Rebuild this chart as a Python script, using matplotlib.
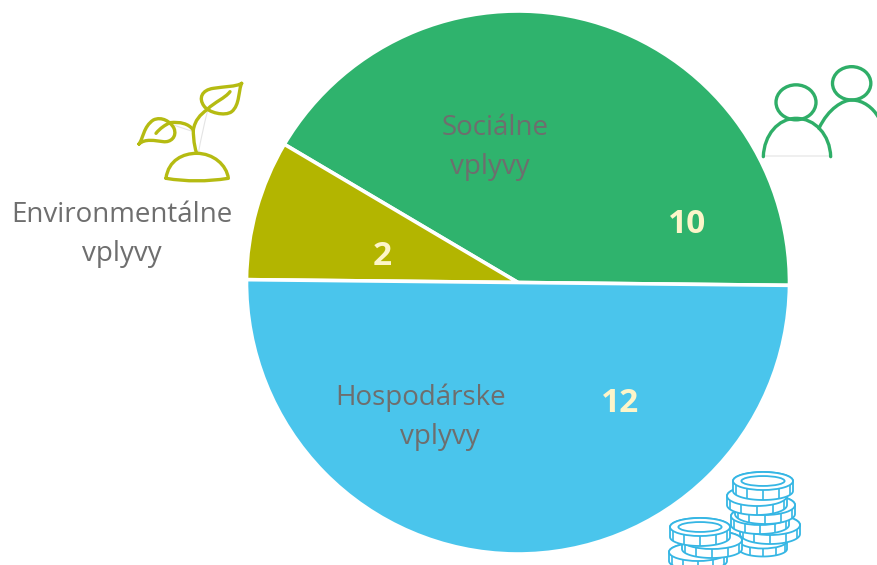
import numpy as np
import matplotlib
matplotlib.use("Agg")
import matplotlib.pyplot as plt
from matplotlib.patches import Ellipse, PathPatch
from matplotlib.path import Path

categories = ["Sociálne vplyvy", "Environmentálne vplyvy", "Hospodárske vplyvy"]
values = [10, 2, 12]
colors = ["#2fb36d", "#b3b500", "#4ac5ec"]

W, H = 878, 565
TEXT = "#6e6e6e"
NUM = "#fdf5c9"
PLANT = "#b5bb12"
PEOPLE = "#2fae68"
COIN = "#35b6e4"

plt.rcParams["font.family"] = ["Open Sans", "DejaVu Sans"]

fig = plt.figure(figsize=(W / 100, H / 100), dpi=100)
ax = fig.add_axes([0, 0, 1, 1])

ax.pie(values, colors=colors, startangle=-0.6, center=(518, H - 282.5), radius=271.5,
       frame=False, wedgeprops=dict(edgecolor="white", linewidth=2.6))
ax.set_xlim(0, W)
ax.set_ylim(0, H)
ax.set_aspect("equal")
ax.axis("off")


def curve(pts, ox, oy, color, lw=2.4):
    # pts: first point, then groups of 3 bezier points, in zoomed crop coords
    verts = [(ox + x / 3, H - (oy + y / 3)) for x, y in pts]
    codes = [Path.MOVETO] + [Path.CURVE4] * (len(verts) - 1)
    ax.add_patch(PathPatch(Path(verts, codes), fill=False, edgecolor=color, lw=lw,
                           capstyle="round", joinstyle="round", zorder=5))


# rastlinka
px, py = 130, 70
curve([(130, 165), (150, 172), (170, 178), (190, 185)], px, py, "#e4e4e4", 0.8)
curve([(232, 125), (222, 165), (212, 210), (205, 250)], px, py, "#e4e4e4", 0.8)
curve([(108, 325), (115, 270), (160, 250), (200, 250), (250, 250), (290, 285), (295, 325),
       (230, 335), (170, 335), (108, 325)], px, py, PLANT)
curve([(200, 250), (190, 220), (190, 190), (190, 180), (195, 150), (210, 135), (232, 118)], px, py, PLANT)
curve([(190, 180), (175, 160), (150, 155), (120, 158)], px, py, PLANT)
curve([(335, 40), (320, 50), (280, 50), (250, 55), (215, 60), (205, 85), (222, 108),
       (235, 128), (285, 140), (305, 125), (330, 105), (325, 60), (335, 40)], px, py, PLANT)
curve([(232, 118), (255, 95), (285, 85), (300, 65)], px, py, PLANT)
curve([(27, 222), (40, 205), (40, 170), (70, 150), (95, 138), (122, 155), (132, 175),
       (142, 200), (122, 218), (100, 215), (75, 212), (45, 205), (27, 222)], px, py, PLANT)
curve([(120, 158), (105, 165), (90, 175), (78, 190)], px, py, PLANT)

# ludia
px, py = 750, 55
curve([(40, 303), (100, 303), (180, 303), (242, 303)], px, py, "#e4e4e4", 0.8)
curve([(40, 305), (42, 240), (85, 190), (138, 190), (195, 190), (240, 240), (242, 305)], px, py, PEOPLE)
curve([(207, 220), (235, 160), (280, 135), (305, 135), (340, 135), (370, 160), (384, 185)], px, py, PEOPLE)
ax.add_patch(Ellipse((px + 138 / 3, H - (py + 142 / 3)), 120 / 3, 105 / 3, fill=False,
                     edgecolor=PEOPLE, lw=2.4, zorder=5))
ax.add_patch(Ellipse((px + 305 / 3, H - (py + 85 / 3)), 115 / 3, 100 / 3, fill=False,
                     edgecolor=PEOPLE, lw=2.4, zorder=5))


def coin(cx, cy, w, h, t, hole=False, z=6):
    # jedna minca: horna elipsa, bocna stena a zarezy
    b = np.linspace(np.pi, 2 * np.pi, 40)
    c = np.linspace(0, np.pi, 40)
    yc = H - cy
    xs = np.r_[cx + w / 2 * np.cos(c), cx + w / 2 * np.cos(b)]
    ys = np.r_[yc + h / 2 * np.sin(c), yc - t + h / 2 * np.sin(b)]
    ax.fill(xs, ys, facecolor="white", edgecolor=COIN, lw=1.3, zorder=z)
    ax.add_patch(Ellipse((cx, yc), w, h, facecolor="white", edgecolor=COIN, lw=1.3, zorder=z))
    if hole:
        ax.add_patch(Ellipse((cx, yc), w * 0.72, h * 0.55, facecolor="white", edgecolor=COIN,
                             lw=1.3, zorder=z))
    for ang in np.radians([205, 238, 270, 302, 335]):
        x = cx + w / 2 * np.cos(ang)
        y = yc + h / 2 * np.sin(ang)
        ax.plot([x, x], [y, y - t], color=COIN, lw=1.2, zorder=z, solid_capstyle="butt")


coins = [
    (763, 541, 48, 15, 8, False),
    (770, 525, 60, 20, 9, False),
    (760, 516, 58, 18, 9, False),
    (765, 505, 60, 20, 9, False),
    (757, 496, 60, 20, 9, False),
    (763, 481, 60, 18, 10, True),
    (698, 552, 58, 18, 9, False),
    (712, 540, 60, 18, 9, False),
    (700, 527, 60, 18, 10, True),
]
for i, (cx, cy, w, h, t, hole) in enumerate(coins):
    coin(cx, cy, w, h, t, hole, z=6 + i * 0.1)

# popisy
label_lines = ["Sociálne", "vplyvy", "Environmentálne", "vplyvy", "Hospodárske", "vplyvy"]
label_x = [495, 490, 122, 122, 421, 440]
label_y = [128, 167, 215, 254, 398, 437]
for s, x, y in zip(label_lines, label_x, label_y):
    ax.text(x, H - y, s, color=TEXT, fontsize=20, ha="center", va="center", zorder=8)

num_x = [687, 382, 620]
num_y = [224, 256, 404]
for v, x, y in zip(values, num_x, num_y):
    ax.text(x, H - y, str(v), color=NUM, fontsize=24, fontweight="bold", ha="center",
            va="center", zorder=8)

fig.savefig("out.png", dpi=100)
